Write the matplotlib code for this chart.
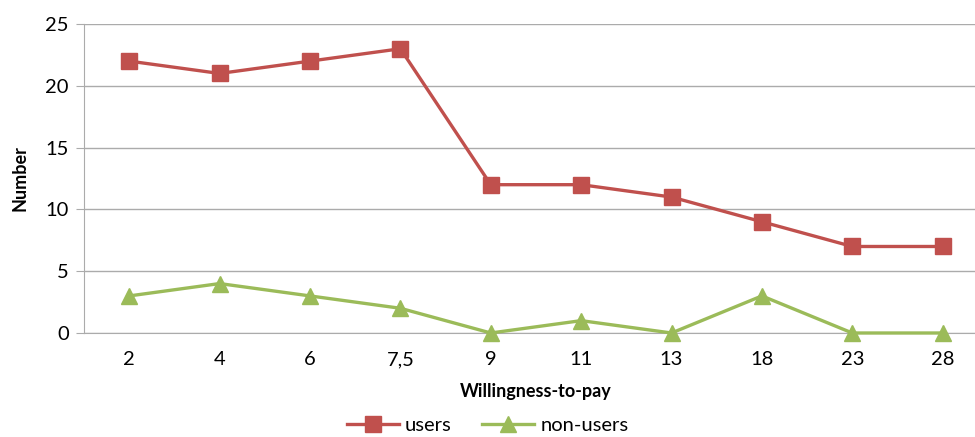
import matplotlib
matplotlib.use("Agg")
import matplotlib.pyplot as plt

categories = ["2", "4", "6", "7,5", "9", "11", "13", "18", "23", "28"]
users = [22, 21, 22, 23, 12, 12, 11, 9, 7, 7]
non_users = [3, 4, 3, 2, 0, 1, 0, 3, 0, 0]
yticks = [0, 5, 10, 15, 20, 25]

plt.rcParams['font.family'] = ['Lato', 'DejaVu Sans']

fig = plt.figure(figsize=(9.75, 4.37), dpi=100)
ax = fig.add_axes([0.0862, 0.238, 0.927, 0.707])

x = list(range(len(categories)))
ax.plot(x, users, color='#C0504D', lw=2.4, marker='s', markersize=11,
        label='users', clip_on=False, zorder=3)
ax.plot(x, non_users, color='#9BBB59', lw=2.4, marker='^', markersize=12,
        label='non-users', clip_on=False, zorder=3)

ax.set_xlim(-0.5, len(categories) - 0.5)
ax.set_ylim(0, 25)
ax.set_yticks(yticks)
ax.set_yticklabels([str(t) for t in yticks], fontsize=14.5)
ax.set_xticks(x)
ax.set_xticklabels(categories, fontsize=14.5)
ax.yaxis.grid(True, color='#ABABAB', lw=1.0)
ax.set_axisbelow(True)
for s in ['top', 'right']:
    ax.spines[s].set_visible(False)
ax.spines['left'].set_color('#ABABAB')
ax.spines['bottom'].set_color('#ABABAB')
ax.tick_params(axis='x', length=0, pad=13)
ax.tick_params(axis='y', length=6, color='#ABABAB', pad=5, direction='out')

ax.set_ylabel('Number', fontsize=13, fontweight='bold', labelpad=12)
ax.set_xlabel('Willingness-to-pay', fontsize=13, fontweight='bold', labelpad=11)

fig.legend(loc='lower center', bbox_to_anchor=(0.5, -0.035), ncol=2,
           frameon=False, fontsize=14.5, handlelength=2.6, columnspacing=1.5,
           handletextpad=0.3)

fig.savefig('out.png', dpi=100)
